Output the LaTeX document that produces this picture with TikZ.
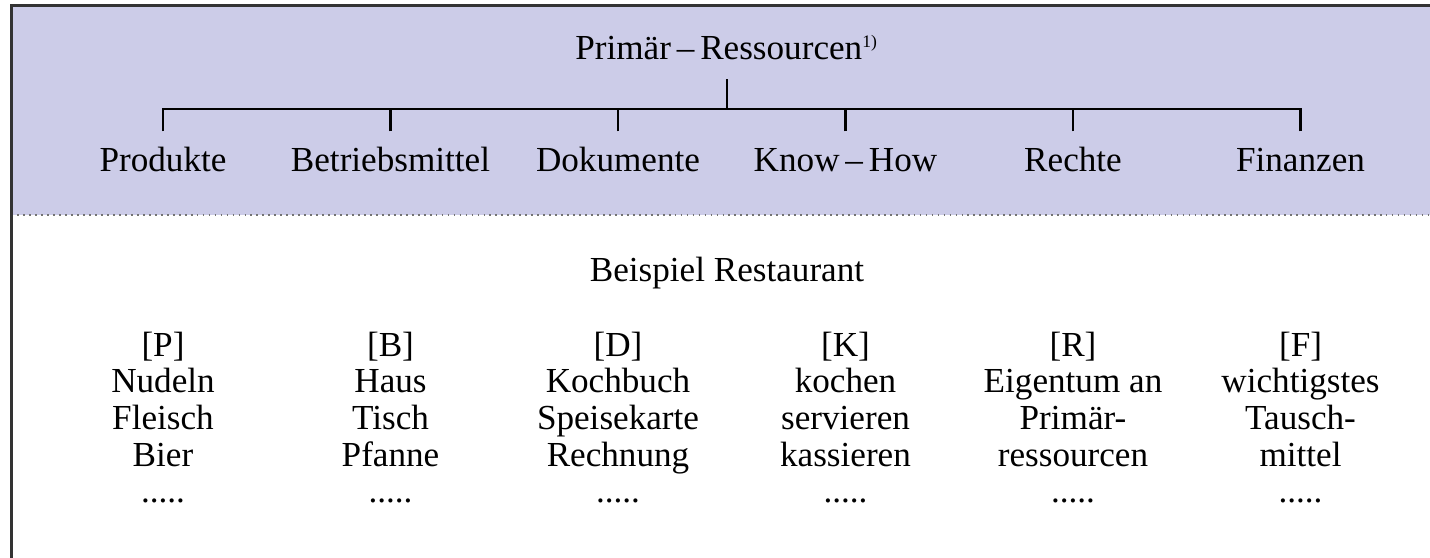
\documentclass[tikz,border=0pt]{standalone}
\usepackage{fontspec}
\setmainfont{Liberation Serif}
\usetikzlibrary{backgrounds,positioning}
\definecolor{bandblue}{RGB}{204,204,232}
\tikzset{title node/.style={anchor=base, inner sep=0.18cm}}
\tikzset{kind node/.style={anchor=base, text height=0.26cm, inner sep=0.14cm}}
\tikzset{example node/.style={anchor=base, align=center, inner sep=0pt,
    font=\fontsize{10}{10.45}\selectfont}}
\tikzset{tree edge/.style={draw=black, line width=0.7pt}}
\tikzset{frame line/.style={draw=black!80, line width=0.6pt}}
\tikzset{separator/.style={draw=black!55, line width=0.5pt, dash pattern=on 0.5pt off 1.2pt}}
\tikzset{band background/.style={fill=bandblue}}

\begin{document}
\begin{tikzpicture}
      [font=\fontsize{10}{10.2}\selectfont]
      \useasboundingbox (0,0) rectangle (14.30,5.58);

      % Oberbegriff und Arten
      \node [title node]   (title)  at ( 7.27,  4.98) {Primär\,–\,Ressourcen\textsuperscript{\tiny 1)}};
      \coordinate          (fork)   at ( 7.27,  4.49);
      \node [kind node]    (prod)   at ( 1.63,  3.86) {Produkte};
      \node [kind node]    (betr)   at ( 3.905, 3.86) {Betriebsmittel};
      \node [kind node]    (doku)   at ( 6.18,  3.86) {Dokumente};
      \node [kind node]    (know)   at ( 8.455, 3.86) {Know\,–\,How};
      \node [kind node]    (recht)  at (10.73,  3.86) {Rechte};
      \node [kind node]    (fin)    at (13.005, 3.86) {Finanzen};

      \draw [tree edge]  (title.south) -- (fork);
      \draw [tree edge]  (prod.north)  |- (fork);
      \draw [tree edge]  (betr.north)  |- (fork);
      \draw [tree edge]  (doku.north)  |- (fork);
      \draw [tree edge]  (know.north)  |- (fork);
      \draw [tree edge]  (recht.north) |- (fork);
      \draw [tree edge]  (fin.north)   |- (fork);

      % Beispiel (base = letzte Zeile)
      \node [anchor=base]  (bsp)    at ( 7.27,  2.76) {Beispiel Restaurant};
      \node [example node] (exP)    at ( 1.63,  0.55) {[P]\\Nudeln\\Fleisch\\Bier\\.....};
      \node [example node] (exB)    at ( 3.905, 0.55) {[B]\\Haus\\Tisch\\Pfanne\\.....};
      \node [example node] (exD)    at ( 6.18,  0.55) {[D]\\Kochbuch\\Speisekarte\\Rechnung\\.....};
      \node [example node] (exK)    at ( 8.455, 0.55) {[K]\\kochen\\servieren\\kassieren\\.....};
      \node [example node] (exR)    at (10.73,  0.55) {[R]\\Eigentum an\\Primär-\\ressourcen\\.....};
      \node [example node] (exF)    at (13.005, 0.55) {[F]\\wichtigstes\\Tausch-\\mittel\\.....};

      \coordinate (sepL) at ( 0.115, 3.43);
      \coordinate (sepR) at (14.30,  3.43);
      \draw [separator]  (sepL) -- (sepR);
      \draw [frame line] (0.115,0) -- (0.115,5.525) -- (14.30,5.525);

      \begin{pgfonlayer}{background}
        \fill [band background] (sepL) rectangle (14.30,5.525);
      \end{pgfonlayer}
    \end{tikzpicture}
\end{document}
